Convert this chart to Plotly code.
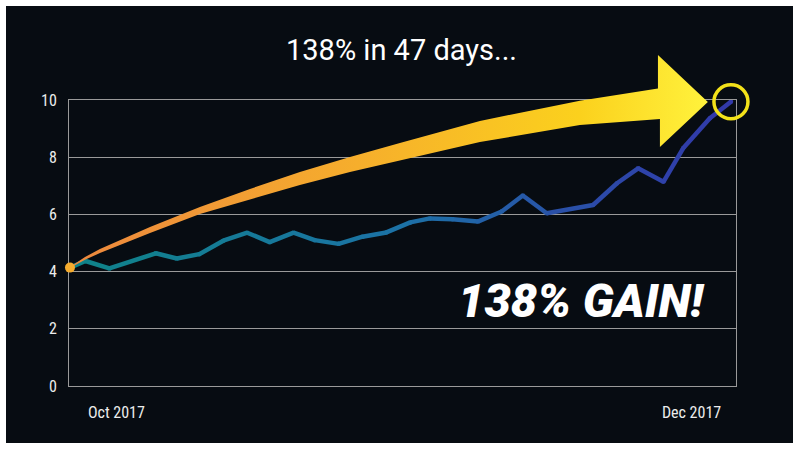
import plotly.graph_objects as go
from plotly.colors import sample_colorscale

# ---- data ----
days = [0, 1.1, 2.8, 6.1, 7.6, 9.2, 10.9, 12.6, 14.2, 15.9, 17.4, 19.1, 20.8, 22.5,
        24.2, 25.6, 27.2, 29.0, 30.7, 32.2, 33.9, 37.2, 38.9, 40.4, 42.2, 43.6, 45.5, 47.0]
values = [4.14, 4.37, 4.11, 4.64, 4.46, 4.61, 5.08, 5.36, 5.03, 5.36, 5.10, 4.97, 5.22, 5.37,
          5.72, 5.86, 5.83, 5.75, 6.10, 6.66, 6.04, 6.33, 7.09, 7.61, 7.14, 8.31, 9.36, 9.94]

x_tick_vals = [3.3, 44.2]
x_tick_labels = ["Oct 2017", "Dec 2017"]
y_tick_vals = [0, 2, 4, 6, 8, 10]

title_text = "138% in 47 days..."
gain_text = "138% GAIN!"

# decorative arrow outline (in chart units: days / value)
arrow_top_x = [0, 1.07, 2.13, 3.91, 5.69, 9.24, 12.80, 16.35, 19.91, 23.46, 29.15, 36.26, 41.03, 41.81]
arrow_top_y = [4.16, 4.51, 4.79, 5.17, 5.56, 6.26, 6.89, 7.48, 8.01, 8.50, 9.27, 9.97, 10.35, 10.40]
arrow_head_x = [41.81, 45.36, 41.95]
arrow_head_y = [11.57, 9.93, 8.36]
arrow_bot_x = [41.95, 41.03, 36.26, 29.15, 23.46, 19.91, 16.35, 12.80, 9.24, 5.69, 3.91, 2.13, 1.07, 0]
arrow_bot_y = [9.34, 9.30, 9.13, 8.53, 7.90, 7.48, 7.03, 6.53, 6.01, 5.35, 5.00, 4.65, 4.41, 4.13]

# ---- styling ----
W, H = 800, 450
x_range = [-0.07, 47.36]
y_range = [0, 10]
x_dom = [69 / W, 736 / W]
y_dom = [1 - 386 / H, 1 - 100 / H]
grid_col = "#9a9a9a"
tick_font = dict(family="Liberation Sans Narrow, Roboto Condensed, DejaVu Sans Condensed, sans-serif",
                 size=16, color="#ececec")
line_scale = [[0, "#0f8388"], [0.5, "#1c72a6"], [0.8, "#2c4aa8"], [1, "#3239aa"]]
arrow_scale = [[0, "#ec873e"], [0.45, "#f6ae2c"], [0.8, "#fbd11d"], [1, "#fff23c"]]


def full_range(r, d):
    span = (r[1] - r[0]) / (d[1] - d[0])
    return [r[0] - d[0] * span, r[0] + (1 - d[0]) * span]


fig = go.Figure()

# gradient line, drawn segment by segment
t = [(d - days[0]) / (days[-1] - days[0]) for d in days]
cols = sample_colorscale(line_scale, t)
for i in range(len(days) - 1):
    c = sample_colorscale(line_scale, [(t[i] + t[i + 1]) / 2])[0]
    fig.add_trace(go.Scatter(x=days[i:i + 2], y=values[i:i + 2], mode="lines",
                             line=dict(color=c, width=4.5), hoverinfo="skip", showlegend=False))
fig.add_trace(go.Scatter(x=days, y=values, mode="markers",
                         marker=dict(color=cols, size=4.5, line=dict(width=0)),
                         hoverinfo="skip", showlegend=False))

# decoration layer on a full-figure subplot with the same scale
ax_x = arrow_top_x + arrow_head_x + arrow_bot_x
ax_y = arrow_top_y + arrow_head_y + arrow_bot_y
fig.add_trace(go.Scatter(x=ax_x, y=ax_y, fill="toself", mode="lines",
                         line=dict(width=0, color="rgba(0,0,0,0)"),
                         fillgradient=dict(type="horizontal", colorscale=arrow_scale),
                         xaxis="x2", yaxis="y2", hoverinfo="skip", showlegend=False))
fig.add_trace(go.Scatter(x=[days[0]], y=[values[0]], mode="markers",
                         marker=dict(color="#f6ac2e", size=10),
                         xaxis="x2", yaxis="y2", hoverinfo="skip", showlegend=False))
fig.add_trace(go.Scatter(x=[days[-1]], y=[values[-1]], mode="markers",
                         marker=dict(symbol="circle-open", size=34, color="#f3e21a",
                                     line=dict(width=3.5, color="#f3e21a")),
                         xaxis="x2", yaxis="y2", hoverinfo="skip", showlegend=False))

fig.update_layout(
    width=W, height=H,
    margin=dict(l=0, r=0, t=0, b=0, pad=0),
    paper_bgcolor="#ffffff",
    plot_bgcolor="rgba(0,0,0,0)",
    showlegend=False,
    xaxis=dict(domain=x_dom, range=x_range, showgrid=False, zeroline=False,
               showline=True, mirror=True, linecolor=grid_col, linewidth=1,
               tickvals=x_tick_vals, ticktext=x_tick_labels, ticks="outside",
               ticklen=12, tickcolor="rgba(0,0,0,0)", tickfont=tick_font, automargin=False),
    yaxis=dict(domain=y_dom, range=y_range, showgrid=True, gridcolor=grid_col, gridwidth=1,
               zeroline=False, showline=True, mirror=True, linecolor=grid_col, linewidth=1,
               tickvals=y_tick_vals, ticks="outside", ticklen=8,
               tickcolor="rgba(0,0,0,0)", tickfont=tick_font, automargin=False),
    xaxis2=dict(domain=[0, 1], range=full_range(x_range, x_dom), anchor="y2", visible=False),
    yaxis2=dict(domain=[0, 1], range=full_range(y_range, y_dom), anchor="x2", visible=False),
    shapes=[dict(type="rect", xref="paper", yref="paper",
                 x0=6 / W, x1=793 / W, y0=1 - 443 / H, y1=1 - 6 / H,
                 fillcolor="#070c12", line=dict(width=0), layer="below")],
    annotations=[
        dict(text=title_text, xref="paper", yref="paper", x=402 / W, y=1 - 50 / H,
             showarrow=False, xanchor="center", yanchor="middle",
             font=dict(family="Roboto, sans-serif", size=29, color="#ffffff")),
        dict(text=gain_text, xref="paper", yref="paper", x=581 / W, y=1 - 300 / H,
             showarrow=False, xanchor="center", yanchor="middle",
             font=dict(family="Roboto, sans-serif", size=47, color="#ffffff",
                       weight=900, style="italic")),
    ],
)

fig.write_html(
    "out.html",
    config={"responsive": False, "displayModeBar": False},
    post_script="document.body.style.margin='0';document.body.style.padding='0';"
                "document.documentElement.style.overflow='hidden';",
)
